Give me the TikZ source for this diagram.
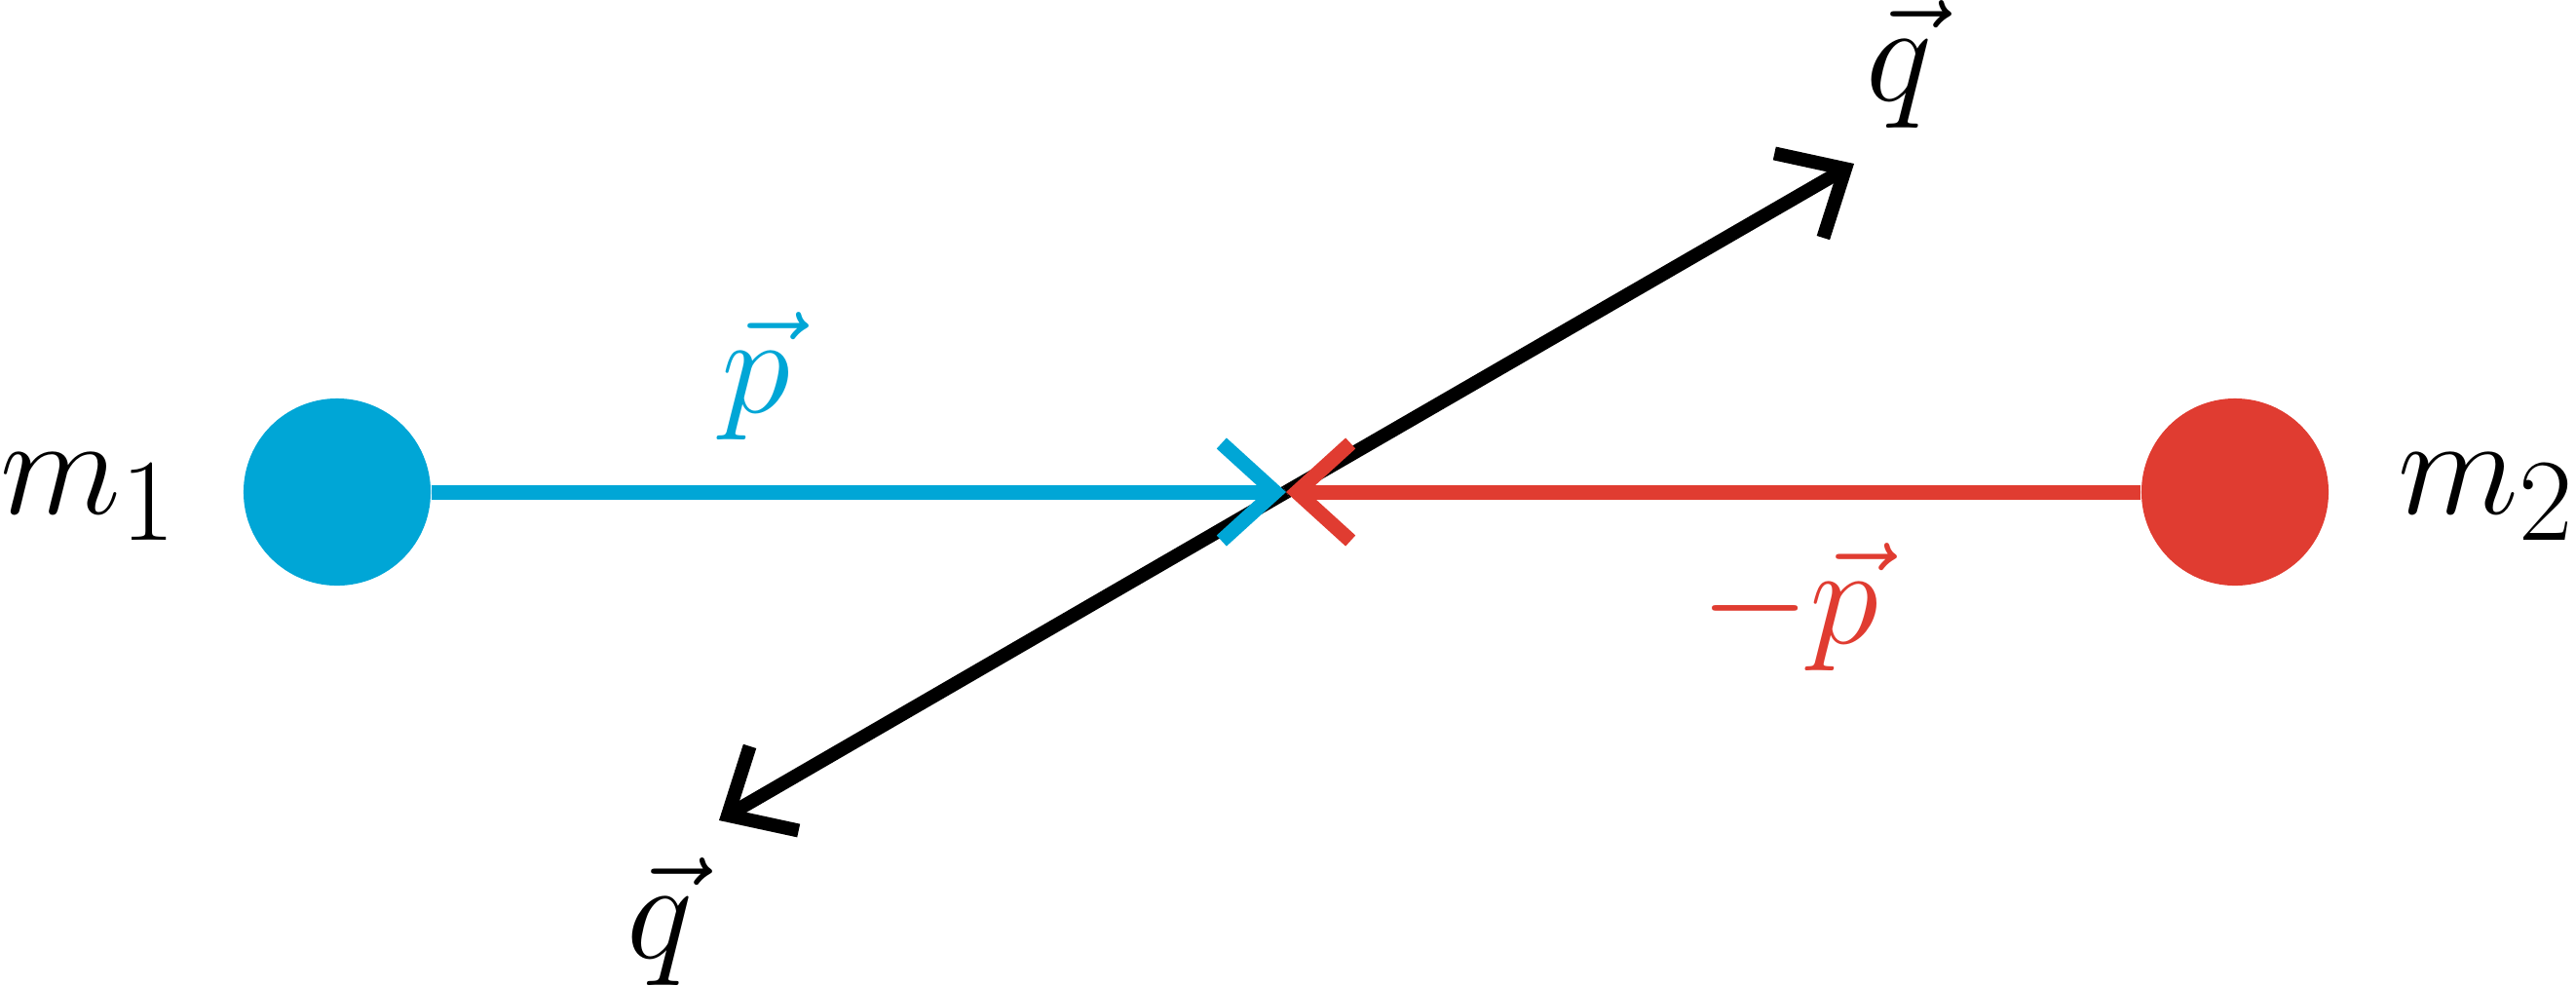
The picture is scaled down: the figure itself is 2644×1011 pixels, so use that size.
\documentclass[tikz,border=0pt]{standalone}
\usetikzlibrary{arrows.meta}
\definecolor{cblue}{HTML}{00A6D6}
\definecolor{cred}{HTML}{E03C31}
\begin{document}
\begin{tikzpicture}[x=0.01cm,y=-0.01cm,
  mass/.style={circle,fill=#1,minimum size=1.92cm,inner sep=0pt},
  lab/.style={inner sep=0pt,font=\Huge},
  tip/.style={-{Straight Barb[length=0.55cm,width=1.0cm,line join=miter]}},
  vec/.style={line width=0.15cm,tip}]
\useasboundingbox (0,0) rectangle (2644,1011);
\node[mass=cblue] (m1) at (346,505) {};
\node[mass=cred] (m2) at (2294,505) {};
\coordinate (c) at (1320,505);
\coordinate (qa) at (1903,168);
\coordinate (qb) at (738,842);
\draw[vec,line width=0.14cm] (c) -- (qa);
\draw[vec,line width=0.14cm] (c) -- (qb);
\draw[vec,cblue] (m1.east) -- (c);
\draw[vec,cred] (m2.west) -- (c);
\node[lab,anchor=base west] (l1) at (0,527) {\scalebox{1.65}{$m_1$}};
\node[lab,anchor=base east] (l2) at (2644,527) {\scalebox{1.65}{$m_2$}};
\node[lab,anchor=base west,text=cblue] (lp) at (740,423) {\scalebox{1.65}{$\vec{p}$}};
\node[lab,anchor=base west,text=cred] (lmp) at (1745,660) {\scalebox{1.65}{$-\vec{p}$}};
\node[lab,anchor=base west] (lq1) at (1915,103) {\scalebox{1.65}{$\vec{q}$}};
\node[lab,anchor=base west] (lq2) at (643,983) {\scalebox{1.65}{$\vec{q}$}};
\end{tikzpicture}
\end{document}
